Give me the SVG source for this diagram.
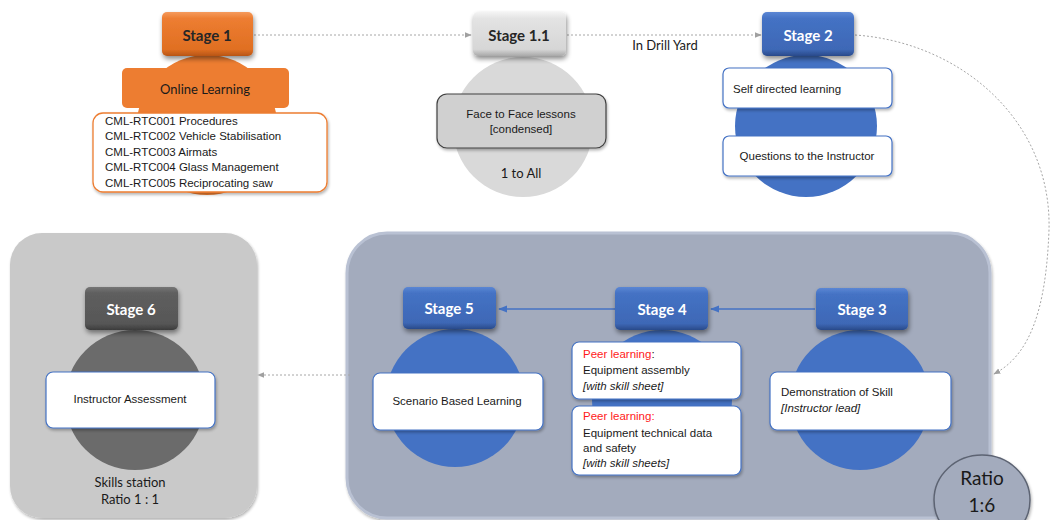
<svg xmlns="http://www.w3.org/2000/svg" width="1051" height="520" viewBox="0 0 1051 520">
  <defs>
    <linearGradient id="gOrange" x1="0" y1="0" x2="0" y2="1">
      <stop offset="0" stop-color="#f59a5c"/>
      <stop offset="0.15" stop-color="#ed7d31"/>
      <stop offset="0.85" stop-color="#e06f22"/>
      <stop offset="1" stop-color="#b85515"/>
    </linearGradient>
    <linearGradient id="gLight" x1="0" y1="0" x2="0" y2="1">
      <stop offset="0" stop-color="#f4f4f4"/>
      <stop offset="0.15" stop-color="#e3e3e3"/>
      <stop offset="0.85" stop-color="#d6d6d6"/>
      <stop offset="1" stop-color="#a8a8a8"/>
    </linearGradient>
    <linearGradient id="gBlue" x1="0" y1="0" x2="0" y2="1">
      <stop offset="0" stop-color="#5b86d4"/>
      <stop offset="0.15" stop-color="#4472c4"/>
      <stop offset="0.85" stop-color="#3e68b6"/>
      <stop offset="1" stop-color="#284a8a"/>
    </linearGradient>
    <linearGradient id="gDark" x1="0" y1="0" x2="0" y2="1">
      <stop offset="0" stop-color="#757575"/>
      <stop offset="0.15" stop-color="#5e5e5e"/>
      <stop offset="0.85" stop-color="#575757"/>
      <stop offset="1" stop-color="#3c3c3c"/>
    </linearGradient>
    <filter id="shadow" x="-20%" y="-20%" width="140%" height="160%">
      <feGaussianBlur in="SourceAlpha" stdDeviation="2.5"/>
      <feOffset dx="1" dy="3" result="b"/>
      <feComponentTransfer><feFuncA type="linear" slope="0.45"/></feComponentTransfer>
      <feMerge><feMergeNode/><feMergeNode in="SourceGraphic"/></feMerge>
    </filter>
    <filter id="soft" x="-10%" y="-10%" width="120%" height="130%">
      <feGaussianBlur in="SourceAlpha" stdDeviation="1.5"/>
      <feOffset dx="1" dy="2"/>
      <feComponentTransfer><feFuncA type="linear" slope="0.3"/></feComponentTransfer>
      <feMerge><feMergeNode/><feMergeNode in="SourceGraphic"/></feMerge>
    </filter>
    <marker id="arrGrey" viewBox="0 0 10 10" refX="9" refY="5" markerWidth="7" markerHeight="7" orient="auto">
      <path d="M0,1 L10,5 L0,9 z" fill="#a0a0a0"/>
    </marker>
    <marker id="arrBlue" viewBox="0 0 10 10" refX="9" refY="5" markerWidth="7" markerHeight="7" orient="auto">
      <path d="M0,1 L10,5 L0,9 z" fill="#4472c4"/>
    </marker>
  </defs>
  <style>
    .stage { font-family: Lato, "Open Sans", sans-serif; font-weight: 700; font-size: 15px; text-anchor: middle; }
    .w { fill: #ffffff; }
    .k { fill: #262626; }
    .body { font-family: "Liberation Sans", Arial, sans-serif; font-size: 11.5px; fill: #1a1a1a; }
    .mid { text-anchor: middle; }
    .it { font-style: italic; }
    .red { fill: #ff1a1a; }
    .card { fill: #ffffff; stroke: #4472c4; stroke-width: 1.2; }
    .cal { font-family: Lato, "Open Sans", sans-serif; font-size: 13px; fill: #1a1a1a; }
    .dot { fill: none; stroke: #a6a6a6; stroke-width: 1; stroke-dasharray: 2 2; }
  </style>

  <rect width="1051" height="520" fill="#ffffff"/>

  <!-- panels -->
  <g id="panel-skills">
    <rect x="10" y="233" width="247" height="285" rx="32" fill="#c9c9c9" filter="url(#soft)"/>
  </g>
  <g id="panel-ratio">
    <rect x="347" y="233" width="643" height="285" rx="40" fill="#a3abbd" stroke="#b9c1d3" stroke-width="3" filter="url(#soft)"/>
  </g>

  <!-- connectors -->
  <g id="connectors">
    <line class="dot" x1="254" y1="35" x2="471" y2="35" marker-end="url(#arrGrey)"/>
    <line class="dot" x1="567" y1="35" x2="761" y2="35" marker-end="url(#arrGrey)"/>
    <path class="dot" d="M855,35 C960,42 1052,120 1049,230 C1046,310 1030,355 994,374" marker-end="url(#arrGrey)"/>
    <line class="dot" x1="350" y1="375" x2="258" y2="375" marker-end="url(#arrGrey)"/>
    <line x1="615" y1="309" x2="499" y2="309" stroke="#4472c4" stroke-width="1.3" marker-end="url(#arrBlue)"/>
    <line x1="815" y1="309" x2="711" y2="309" stroke="#4472c4" stroke-width="1.3" marker-end="url(#arrBlue)"/>
    <text x="665" y="50" class="cal" text-anchor="middle">In Drill Yard</text>
  </g>

  <!-- Stage 1 -->
  <g id="stage1">
    <circle cx="207" cy="125" r="70" fill="#ed7d31"/>
    <rect x="162" y="12" width="91" height="44" rx="5" fill="url(#gOrange)" filter="url(#shadow)"/>
    <text x="207" y="41" class="stage k">Stage 1</text>
    <rect x="122" y="68" width="167" height="40" rx="5" fill="#ed7d31"/>
    <text x="205" y="94" class="cal mid" font-size="14">Online Learning</text>
    <rect x="93" y="113" width="234" height="79" rx="10" fill="#ffffff" stroke="#ed7d31" stroke-width="1.3" filter="url(#soft)"/>
    <text class="body" x="105" y="125">CML-RTC001 Procedures</text>
    <text class="body" x="105" y="140">CML-RTC002 Vehicle Stabilisation</text>
    <text class="body" x="105" y="156">CML-RTC003 Airmats</text>
    <text class="body" x="105" y="171">CML-RTC004 Glass Management</text>
    <text class="body" x="105" y="187">CML-RTC005 Reciprocating saw</text>
  </g>

  <!-- Stage 1.1 -->
  <g id="stage1-1">
    <circle cx="523" cy="127" r="70" fill="#d9d9d9"/>
    <rect x="473" y="12" width="93" height="44" rx="5" fill="url(#gLight)" filter="url(#shadow)"/>
    <text x="519" y="41" class="stage k">Stage 1.1</text>
    <rect x="437" y="94" width="169" height="54" rx="10" fill="#d0d0d0" stroke="#404040" stroke-width="1.2" filter="url(#soft)"/>
    <text class="body mid" x="521" y="118">Face to Face lessons</text>
    <text class="body mid" x="521" y="133">[condensed]</text>
    <text class="cal mid" x="521" y="178">1 to All</text>
  </g>

  <!-- Stage 2 -->
  <g id="stage2">
    <circle cx="806" cy="126" r="71" fill="#4472c4"/>
    <rect x="762" y="12" width="92" height="44" rx="5" fill="url(#gBlue)" filter="url(#shadow)"/>
    <text x="808" y="41" class="stage w">Stage 2</text>
    <rect class="card" x="723" y="68" width="169" height="40" rx="6" filter="url(#soft)"/>
    <text class="body" x="733" y="93">Self directed learning</text>
    <rect class="card" x="723" y="136" width="169" height="40" rx="6" filter="url(#soft)"/>
    <text class="body mid" x="807" y="160">Questions to the Instructor</text>
  </g>

  <!-- Stage 3 -->
  <g id="stage3">
    <circle cx="860" cy="400" r="70" fill="#4472c4"/>
    <rect x="816" y="288" width="92" height="42" rx="5" fill="url(#gBlue)" filter="url(#shadow)"/>
    <text x="862" y="315" class="stage w">Stage 3</text>
    <rect class="card" x="770" y="372" width="181" height="58" rx="7" filter="url(#soft)"/>
    <text class="body" x="781" y="396">Demonstration of Skill</text>
    <text class="body it" x="781" y="412">[Instructor lead]</text>
  </g>

  <!-- Stage 4 -->
  <g id="stage4">
    <circle cx="662" cy="400" r="70" fill="#4472c4"/>
    <rect x="615" y="287" width="93" height="43" rx="5" fill="url(#gBlue)" filter="url(#shadow)"/>
    <text x="662" y="315" class="stage w">Stage 4</text>
    <rect class="card" x="572" y="342" width="169" height="57" rx="7" filter="url(#soft)"/>
    <text class="body" x="583" y="358"><tspan class="red">Peer learning</tspan>:</text>
    <text class="body" x="583" y="374">Equipment assembly</text>
    <text class="body it" x="583" y="390">[with skill sheet]</text>
    <rect class="card" x="572" y="406" width="169" height="69" rx="7" filter="url(#soft)"/>
    <text class="body red" x="583" y="420">Peer learning:</text>
    <text class="body" x="583" y="437">Equipment technical data</text>
    <text class="body" x="583" y="452">and safety</text>
    <text class="body it" x="583" y="467">[with skill sheets]</text>
  </g>

  <!-- Stage 5 -->
  <g id="stage5">
    <circle cx="455" cy="398" r="69" fill="#4472c4"/>
    <rect x="403" y="287" width="93" height="42" rx="5" fill="url(#gBlue)" filter="url(#shadow)"/>
    <text x="449" y="314" class="stage w">Stage 5</text>
    <rect class="card" x="373" y="373" width="170" height="57" rx="7" filter="url(#soft)"/>
    <text class="body mid" x="457" y="405">Scenario Based Learning</text>
  </g>

  <!-- Stage 6 -->
  <g id="stage6">
    <circle cx="135" cy="400" r="70" fill="#6b6b6b"/>
    <rect x="85" y="287" width="93" height="43" rx="5" fill="url(#gDark)" filter="url(#shadow)"/>
    <text x="131" y="315" class="stage w">Stage 6</text>
    <rect class="card" x="46" y="372" width="169" height="56" rx="7" filter="url(#soft)"/>
    <text class="body mid" x="130" y="403">Instructor Assessment</text>
    <text class="cal mid" x="130" y="487">Skills station</text>
    <text class="cal mid" x="130" y="504">Ratio 1 : 1</text>
  </g>

  <!-- ratio badge -->
  <g id="ratio-badge">
    <ellipse cx="982" cy="500" rx="48" ry="45" fill="#a3abbd" stroke="#5d6473" stroke-width="1.5" filter="url(#soft)"/>
    <text x="982" y="485" font-family="Lato, 'Open Sans', sans-serif" font-size="19" text-anchor="middle" fill="#1a1a1a">Ratio</text>
    <text x="982" y="512" font-family="Lato, 'Open Sans', sans-serif" font-size="19" text-anchor="middle" fill="#1a1a1a">1:6</text>
  </g>
</svg>
